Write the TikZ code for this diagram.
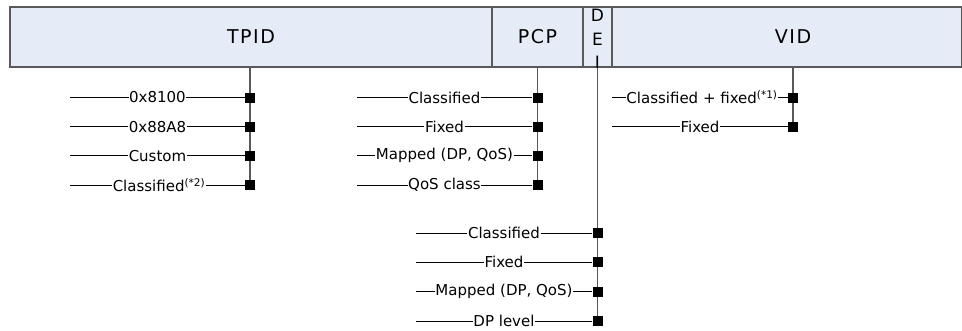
\documentclass[tikz,border=0pt]{standalone}
\usepackage{fontspec}
\setmainfont{DejaVu Sans}
\newfontfamily\fieldfont[LetterSpace=8]{DejaVu Sans}
\usepackage{xcolor}
\usepackage{tikz}
\usetikzlibrary{positioning,backgrounds}

\definecolor{hdrfill}{HTML}{E6ECF7}

\begin{document}
\begin{tikzpicture}[
  x=1pt, y=-1pt,
  field/.style={rectangle, draw=black!65, fill=hdrfill, line width=1.4pt, minimum height=60pt, inner sep=0pt, font=\fieldfont\fontsize{19}{23}\selectfont},
  opt/.style={rectangle, fill=white, inner xsep=0.5pt, inner ysep=1pt, font=\fontsize{15}{18}\selectfont},
  dot/.style={rectangle, fill=black, minimum size=10pt, inner sep=0pt},
  wire/.style={black, line width=0.8pt},
  stem/.style={black!65, line width=1.3pt}
]
\useasboundingbox (0,0) rectangle (962,330);

% Tag header
\node[field, minimum width=482pt] (tpid) at (251,37) {TPID};
\node[field, minimum width=91pt] (pcp) at (537.5,37) {PCP};
\node[field, minimum width=29pt] (dei) at (597.5,37) {};
\node[align=center, inner sep=0pt, font=\fontsize{17}{23.5}\selectfont] (deitxt) at (597.5,39) {D\\E\\I};
\node[field, minimum width=350pt] (vid) at (787,37) {\hspace{12pt}VID};

% TPID options
\node[dot] (t1q) at (250,97.5) {};
\node[dot] (t2q) at (250,126.7) {};
\node[dot] (t3q) at (250,155.8) {};
\node[dot] (t4q) at (250,185) {};
\node[opt] (t1) at (157.5,97.5) {0x8100};
\node[opt] (t2) at (157.5,126.7) {0x88A8};
\node[opt] (t3) at (157.5,155.8) {Custom};
\node[opt] (t4) at (159,185) {Classified\textsuperscript{(*2)}};

% PCP options
\node[dot] (p1q) at (537.5,97.5) {};
\node[dot] (p2q) at (537.5,126.7) {};
\node[dot] (p3q) at (537.5,155.8) {};
\node[dot] (p4q) at (537.5,185) {};
\node[opt] (p1) at (444.5,97.5) {Classified};
\node[opt] (p2) at (444.5,126.7) {Fixed};
\node[opt] (p3) at (444.5,155.8) {Mapped (DP, QoS)};
\node[opt] (p4) at (444.5,185) {QoS class};

% DEI options
\node[dot] (d1q) at (597.5,233) {};
\node[dot] (d2q) at (597.5,262.3) {};
\node[dot] (d3q) at (597.5,291.6) {};
\node[dot] (d4q) at (597.5,320.9) {};
\node[opt] (d1) at (504,233) {Classified};
\node[opt] (d2) at (504,262.3) {Fixed};
\node[opt] (d3) at (504,291.6) {Mapped (DP, QoS)};
\node[opt] (d4) at (504,320.9) {DP level};

% VID options
\node[dot] (v1q) at (793,97.5) {};
\node[dot] (v2q) at (793,126.7) {};
\node[opt] (v1) at (702,97.5) {Classified + fixed\textsuperscript{(*1)}};
\node[opt] (v2) at (700,126.7) {Fixed};

% Stems
\begin{scope}[on background layer]
\draw[stem] (tpid.south -| t1q) -- (t4q.center);
\draw[stem] (pcp.south -| p1q) -- (p4q.center);
\draw[stem] (dei.south -| d1q) -- (d4q.center);
\draw[stem] (vid.south -| v1q) -- (v2q.center);
\end{scope}

% Connections
\draw[wire] (70,97.5) coordinate (t1s) -- (t1) -- (t1q);
\draw[wire] (70,126.7) coordinate (t2s) -- (t2) -- (t2q);
\draw[wire] (70,155.8) coordinate (t3s) -- (t3) -- (t3q);
\draw[wire] (70,185) coordinate (t4s) -- (t4) -- (t4q);
\draw[wire] (357,97.5) coordinate (p1s) -- (p1) -- (p1q);
\draw[wire] (357,126.7) coordinate (p2s) -- (p2) -- (p2q);
\draw[wire] (357,155.8) coordinate (p3s) -- (p3) -- (p3q);
\draw[wire] (357,185) coordinate (p4s) -- (p4) -- (p4q);
\draw[wire] (416,233) coordinate (d1s) -- (d1) -- (d1q);
\draw[wire] (416,262.3) coordinate (d2s) -- (d2) -- (d2q);
\draw[wire] (416,291.6) coordinate (d3s) -- (d3) -- (d3q);
\draw[wire] (416,320.9) coordinate (d4s) -- (d4) -- (d4q);
\draw[wire] (612,97.5) coordinate (v1s) -- (v1) -- (v1q);
\draw[wire] (612,126.7) coordinate (v2s) -- (v2) -- (v2q);

\end{tikzpicture}
\end{document}
